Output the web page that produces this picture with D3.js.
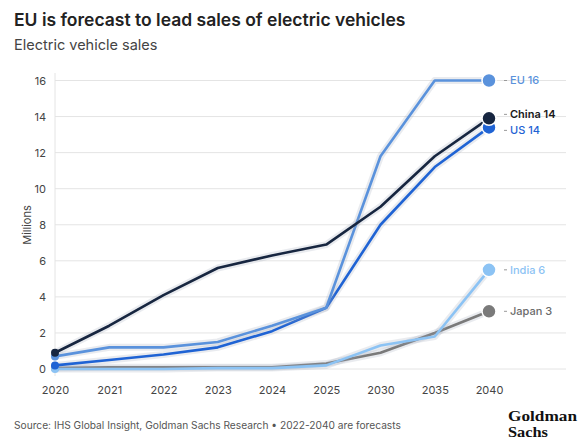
<!DOCTYPE html>
<html><head><meta charset="utf-8">
<script src="https://cdn.jsdelivr.net/npm/d3@7"></script>
<style>
body{margin:0;background:#fff;}
svg{display:block;font-family:Inter, "Noto Sans", sans-serif;}
</style></head>
<body><svg id="c" width="582" height="441"></svg>
<script>
const years = ["2020","2021","2022","2023","2024","2025","2030","2035","2040"];
const china = [0.9, 2.4, 4.1, 5.6, 6.3, 6.9, 9.0, 11.8, 13.9];
const eu    = [0.7, 1.2, 1.2, 1.5, 2.4, 3.4, 11.8, 16, 16];
const us    = [0.2, 0.5, 0.8, 1.2, 2.1, 3.4, 8.0, 11.2, 13.4];
const india = [0.0, 0.0, 0.0, 0.05, 0.05, 0.2, 1.3, 1.8, 5.5];
const japan = [0.05, 0.1, 0.1, 0.1, 0.1, 0.3, 0.9, 2.0, 3.2];
const yTicks = [0,2,4,6,8,10,12,14,16];
const seriesNames = ["Japan","India","US","EU","China"];
const seriesLabels = ["Japan 3","India 6","US 14","EU 16","China 14"];
const seriesColors = ["#7a7a7a","#8cc3f4","#1f63d4","#5a92dc","#172640"];
const seriesData = [japan, india, us, eu, china];

const svg = d3.select("#c");
const x = d3.scalePoint().domain(years).range([55, 489]);
const y = d3.scaleLinear().domain([0,16]).range([369, 80.5]);

// title
svg.append("text").attr("x",14).attr("y",26).attr("font-size",17.5).attr("font-weight",600)
  .attr("fill","#222").text("EU is forecast to lead sales of electric vehicles");
svg.append("text").attr("x",14).attr("y",50).attr("font-size",14.5).attr("fill","#444")
  .text("Electric vehicle sales");

// gridlines
const g = svg.append("g");
g.selectAll("line.grid").data(yTicks).join("line")
  .attr("x1",55).attr("x2",566).attr("y1",d=>y(d)).attr("y2",d=>y(d))
  .attr("stroke","#e4e4e4").attr("stroke-width",1);
g.append("line").attr("x1",55).attr("x2",55).attr("y1",73).attr("y2",376)
  .attr("stroke","#e4e4e4");

// axes
const yAxis = d3.axisLeft(y).tickValues(yTicks).tickSize(0).tickPadding(9);
const ya = svg.append("g").attr("transform","translate(55,0)").call(yAxis);
ya.select(".domain").remove();
ya.selectAll("text").attr("font-size",11).attr("fill","#444").attr("font-family","Inter, sans-serif");

const xAxis = d3.axisBottom(x).tickSize(0).tickPadding(9);
const xa = svg.append("g").attr("transform","translate(0,377)").call(xAxis);
xa.select(".domain").remove();
xa.selectAll("text").attr("font-size",11).attr("fill","#444").attr("font-family","Inter, sans-serif");

svg.append("text").attr("transform","translate(31,225) rotate(-90)").attr("text-anchor","middle")
  .attr("font-size",11).attr("fill","#444").text("Millions");

// lines
const line = d3.line().x((d,i)=>x(years[i])).y(d=>y(d));
seriesData.forEach((data,k)=>{
  svg.append("path").datum(data).attr("d",line).attr("fill","none")
    .attr("stroke","#9aa3b5").attr("stroke-opacity",0.22).attr("stroke-width",7)
    .attr("stroke-linejoin","round").attr("stroke-linecap","round");
  svg.append("path").datum(data).attr("d",line).attr("fill","none")
    .attr("stroke",seriesColors[k]).attr("stroke-width",2.6)
    .attr("stroke-linejoin","round").attr("stroke-linecap","round");
});
// start and end dots
seriesData.forEach((data,k)=>{
  svg.append("circle").attr("cx",x(years[0])).attr("cy",y(data[0])).attr("r",4)
    .attr("fill",seriesColors[k]);
});
seriesData.forEach((data,k)=>{
  const last = data[data.length-1];
  svg.append("circle").attr("cx",x(years[years.length-1])).attr("cy",y(last)).attr("r",7)
    .attr("fill",seriesColors[k]).attr("stroke","#fff").attr("stroke-width",1.5);
});

// labels
const labelY = {"Japan":y(japan[8]),"India":y(india[8]),"US":y(us[8])+3,"EU":y(eu[8]),"China":y(china[8])-4};
seriesNames.forEach((n,k)=>{
  const ly = labelY[n];
  svg.append("line").attr("x1",504).attr("x2",507).attr("y1",ly).attr("y2",ly)
    .attr("stroke","#999").attr("stroke-width",1);
  svg.append("text").attr("x",510).attr("y",ly).attr("dy","0.35em")
    .attr("font-size",11).attr("font-weight",n==="China"?600:500)
    .attr("fill",n==="China"?"#1a1a1a":(n==="Japan"?"#6a6a6a":seriesColors[k]))
    .text(seriesLabels[k]);
});

// source
svg.append("text").attr("x",14).attr("y",429).attr("font-size",10.2).attr("fill","#555")
  .text("Source: IHS Global Insight, Goldman Sachs Research \u2022 2022-2040 are forecasts");
// logo
const logo = svg.append("text")
  .attr("font-family","'Liberation Serif', 'DejaVu Serif', serif").attr("font-weight",700)
  .attr("font-size",14.5).attr("fill","#111");
logo.append("tspan").attr("x",508).attr("y",421).attr("textLength",69).attr("lengthAdjust","spacingAndGlyphs").text("Goldman");
logo.append("tspan").attr("x",508).attr("y",437).attr("textLength",40).attr("lengthAdjust","spacingAndGlyphs").text("Sachs");
</script></body></html>
